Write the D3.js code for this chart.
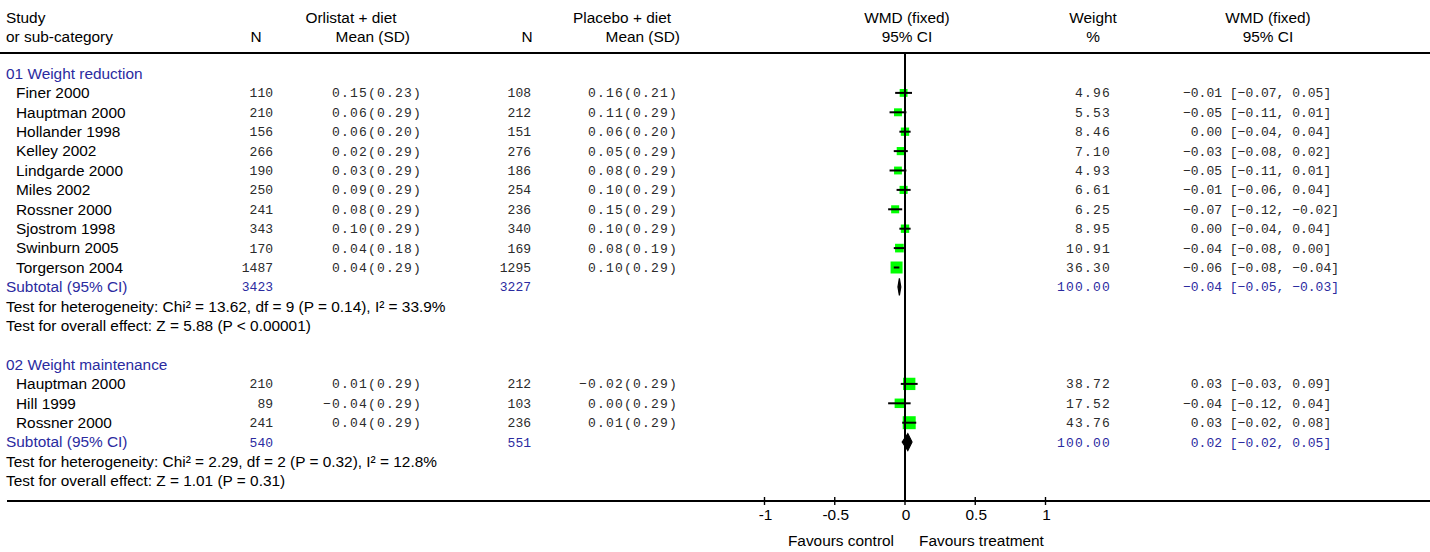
<!DOCTYPE html>
<html>
<head>
<meta charset="utf-8">
<script src="https://cdn.jsdelivr.net/npm/d3@7"></script>
<style>
  html, body { margin: 0; padding: 0; background: #fff; }
  svg { display: block; }
  .sans { font-family: "Liberation Sans", Arial, sans-serif; font-size: 15.4px; fill: #000; }
  .mono { font-family: "Liberation Mono", "Courier New", monospace; font-size: 13px; fill: #2a2a2a; white-space: pre; }
  .wide { letter-spacing: 1.2px; }
  .blue { fill: #2b2b9f; }
</style>
</head>
<body>
<svg id="chart" width="1430" height="552"></svg>
<script>
// ---------- data ----------
const group1Label = "01 Weight reduction";
const studies1 = ["Finer 2000","Hauptman 2000","Hollander 1998","Kelley 2002","Lindgarde 2000","Miles 2002","Rossner 2000","Sjostrom 1998","Swinburn 2005","Torgerson 2004"];
const n1Orl   = [110,210,156,266,190,250,241,343,170,1487];
const mean1Orl = [0.15,0.06,0.06,0.02,0.03,0.09,0.08,0.10,0.04,0.04];
const sd1Orl  = [0.23,0.29,0.20,0.29,0.29,0.29,0.29,0.29,0.18,0.29];
const n1Pla   = [108,212,151,276,186,254,236,340,169,1295];
const mean1Pla = [0.16,0.11,0.06,0.05,0.08,0.10,0.15,0.10,0.08,0.10];
const sd1Pla  = [0.21,0.29,0.20,0.29,0.29,0.29,0.29,0.29,0.19,0.29];
const weight1 = [4.96,5.53,8.46,7.10,4.93,6.61,6.25,8.95,10.91,36.30];
const wmd1    = [-0.01,-0.05,0.00,-0.03,-0.05,-0.01,-0.07,0.00,-0.04,-0.06];
const lo1     = [-0.07,-0.11,-0.04,-0.08,-0.11,-0.06,-0.12,-0.04,-0.08,-0.08];
const hi1     = [0.05,0.01,0.04,0.02,0.01,0.04,-0.02,0.04,0.00,-0.04];
const sub1    = {nOrl: 3423, nPla: 3227, weight: 100.00, wmd: -0.04, lo: -0.05, hi: -0.03};
const het1    = "Test for heterogeneity: Chi\u00B2 = 13.62, df = 9 (P = 0.14), I\u00B2 = 33.9%";
const eff1    = "Test for overall effect: Z = 5.88 (P < 0.00001)";

const group2Label = "02 Weight maintenance";
const studies2 = ["Hauptman 2000","Hill 1999","Rossner 2000"];
const n2Orl   = [210,89,241];
const mean2Orl = [0.01,-0.04,0.04];
const sd2Orl  = [0.29,0.29,0.29];
const n2Pla   = [212,103,236];
const mean2Pla = [-0.02,0.00,0.01];
const sd2Pla  = [0.29,0.29,0.29];
const weight2 = [38.72,17.52,43.76];
const wmd2    = [0.03,-0.04,0.03];
const lo2     = [-0.03,-0.12,-0.02];
const hi2     = [0.09,0.04,0.08];
const sub2    = {nOrl: 540, nPla: 551, weight: 100.00, wmd: 0.02, lo: -0.02, hi: 0.05};
const het2    = "Test for heterogeneity: Chi\u00B2 = 2.29, df = 2 (P = 0.32), I\u00B2 = 12.8%";
const eff2    = "Test for overall effect: Z = 1.01 (P = 0.31)";

const xTicks = [-1, -0.5, 0, 0.5, 1];
const xTickLabels = ["-1", "-0.5", "0", "0.5", "1"];
const favourLeft = "Favours control";
const favourRight = "Favours treatment";

// ---------- build rows ----------
const rows = [];
function addGroup(label, studies, nO, mO, sO, nP, mP, sP, w, e, lo, hi, sub, het, eff) {
  rows.push({type: "group", label});
  studies.forEach((s, i) => rows.push({type: "study", label: s, nO: nO[i], mO: mO[i], sO: sO[i],
    nP: nP[i], mP: mP[i], sP: sP[i], w: w[i], e: e[i], lo: lo[i], hi: hi[i]}));
  rows.push(Object.assign({type: "sub", label: "Subtotal (95% CI)"}, sub));
  rows.push({type: "note", label: het});
  rows.push({type: "note", label: eff});
}
addGroup(group1Label, studies1, n1Orl, mean1Orl, sd1Orl, n1Pla, mean1Pla, sd1Pla, weight1, wmd1, lo1, hi1, sub1, het1, eff1);
rows.push({type: "blank"});
addGroup(group2Label, studies2, n2Orl, mean2Orl, sd2Orl, n2Pla, mean2Pla, sd2Pla, weight2, wmd2, lo2, hi2, sub2, het2, eff2);

// ---------- layout ----------
const svg = d3.select("#chart");
const W = 1430;
const y = d3.scaleLinear().domain([0, 1]).range([73.5, 92.9]);  // row index -> center
const x = d3.scaleLinear().domain([-1, 1]).range([764.5, 1045.5]);
const boxSize = d3.scaleLinear().domain([0, 50]).range([7.2, 13.8]);
const topRule = 53, bottomRule = 501;
const dy = 5.2, dyMono = 4.5;

const col = {
  study: 6, studyIndent: 16,
  nOrl: 273, nOrlHead: 256, orlHead: 351, meanOrl: 422, meanOrlHead: 410,
  nPla: 531, nPlaHead: 527, plaHead: 622, meanPla: 678, meanPlaHead: 680,
  plotHead: 907, wHead: 1093, w: 1111, ciHead: 1268, ci: 1183
};

const f2 = d3.format(".2f");
const pad = v => (v < 0 ? "" : " ") + f2(v);
const meanSD = (m, s) => f2(m) + "(" + f2(s) + ")";

// ---------- header ----------
const hdr = svg.append("g");
function htext(txt, xx, yy, anchor) {
  hdr.append("text").attr("class", "sans").attr("x", xx).attr("y", yy).attr("text-anchor", anchor).text(txt);
}
const h1 = 22.5, h2 = 41.5;
htext("Study", col.study, h1, "start");
htext("or sub-category", col.study, h2, "start");
htext("Orlistat + diet", col.orlHead, h1, "middle");
htext("N", col.nOrlHead, h2, "middle");
htext("Mean (SD)", col.meanOrlHead, h2, "end");
htext("Placebo + diet", col.plaHead, h1, "middle");
htext("N", col.nPlaHead, h2, "middle");
htext("Mean (SD)", col.meanPlaHead, h2, "end");
htext("WMD (fixed)", col.plotHead, h1, "middle");
htext("95% CI", col.plotHead, h2, "middle");
htext("Weight", col.wHead, h1, "middle");
htext("%", col.wHead, h2, "middle");
htext("WMD (fixed)", col.ciHead, h1, "middle");
htext("95% CI", col.ciHead, h2, "middle");

svg.append("line").attr("x1", 0).attr("x2", W).attr("y1", topRule).attr("y2", topRule)
  .attr("stroke", "#000").attr("stroke-width", 2);

// ---------- table rows ----------
const body = svg.append("g");
rows.forEach((r, i) => {
  const yy = y(i) + dy, ym = y(i) + dyMono;
  if (r.type === "group") {
    body.append("text").attr("class", "sans blue").attr("x", col.study).attr("y", yy).text(r.label);
  } else if (r.type === "note") {
    body.append("text").attr("class", "sans").attr("x", col.study).attr("y", yy).text(r.label);
  } else if (r.type === "study") {
    body.append("text").attr("class", "sans").attr("x", col.studyIndent).attr("y", yy).text(r.label);
    body.append("text").attr("class", "mono").attr("x", col.nOrl).attr("y", ym).attr("text-anchor", "end").text(r.nO);
    body.append("text").attr("class", "mono wide").attr("x", col.meanOrl).attr("y", ym).attr("text-anchor", "end").text(meanSD(r.mO, r.sO));
    body.append("text").attr("class", "mono").attr("x", col.nPla).attr("y", ym).attr("text-anchor", "end").text(r.nP);
    body.append("text").attr("class", "mono wide").attr("x", col.meanPla).attr("y", ym).attr("text-anchor", "end").text(meanSD(r.mP, r.sP));
    body.append("text").attr("class", "mono wide").attr("x", col.w).attr("y", ym).attr("text-anchor", "end").text(f2(r.w));
    body.append("text").attr("class", "mono").attr("x", col.ci).attr("y", ym).attr("xml:space", "preserve")
      .text(pad(r.e) + " [" + f2(r.lo) + ", " + f2(r.hi) + "]");
  } else if (r.type === "sub") {
    body.append("text").attr("class", "sans blue").attr("x", col.study).attr("y", yy).text(r.label);
    body.append("text").attr("class", "mono blue").attr("x", col.nOrl).attr("y", ym).attr("text-anchor", "end").text(r.nOrl);
    body.append("text").attr("class", "mono blue").attr("x", col.nPla).attr("y", ym).attr("text-anchor", "end").text(r.nPla);
    body.append("text").attr("class", "mono wide blue").attr("x", col.w).attr("y", ym).attr("text-anchor", "end").text(f2(r.weight));
    body.append("text").attr("class", "mono blue").attr("x", col.ci).attr("y", ym).attr("xml:space", "preserve")
      .text(pad(r.wmd) + " [" + f2(r.lo) + ", " + f2(r.hi) + "]");
  }
});

// ---------- forest plot ----------
const plot = svg.append("g");
const studyRows = rows.map((r, i) => Object.assign({i}, r)).filter(r => r.type === "study");
const subRows = rows.map((r, i) => Object.assign({i}, r)).filter(r => r.type === "sub");

plot.selectAll("rect.box").data(studyRows).enter().append("rect")
  .attr("class", "box")
  .attr("x", d => x(d.e) - boxSize(d.w) / 2)
  .attr("y", d => y(d.i) - boxSize(d.w) / 2)
  .attr("width", d => boxSize(d.w))
  .attr("height", d => boxSize(d.w))
  .attr("fill", "#00ff00");

plot.selectAll("line.ci").data(studyRows).enter().append("line")
  .attr("class", "ci")
  .attr("x1", d => x(d.lo)).attr("x2", d => x(d.hi))
  .attr("y1", d => y(d.i)).attr("y2", d => y(d.i))
  .attr("stroke", "#000").attr("stroke-width", 2);

plot.selectAll("path.diamond").data(subRows).enter().append("path")
  .attr("class", "diamond")
  .attr("d", d => {
    const c = y(d.i), h = 8.5;
    return `M${x(d.lo)},${c} L${x(d.wmd)},${c - h} L${x(d.hi)},${c} L${x(d.wmd)},${c + h} Z`;
  })
  .attr("fill", "#000").attr("stroke", "#000").attr("stroke-width", 1.2);

// zero line
plot.append("line").attr("x1", x(0)).attr("x2", x(0)).attr("y1", topRule).attr("y2", bottomRule)
  .attr("stroke", "#000").attr("stroke-width", 2);

// bottom rule / axis line
svg.append("line").attr("x1", 7).attr("x2", W).attr("y1", bottomRule).attr("y2", bottomRule)
  .attr("stroke", "#000").attr("stroke-width", 2);

// axis ticks and labels
const axis = svg.append("g");
axis.selectAll("line.tick").data(xTicks).enter().append("line")
  .attr("x1", d => x(d)).attr("x2", d => x(d))
  .attr("y1", bottomRule - 4).attr("y2", bottomRule + 4)
  .attr("stroke", "#000").attr("stroke-width", 1.4);
axis.selectAll("text.tl").data(xTicks).enter().append("text")
  .attr("class", "sans")
  .attr("x", d => x(d) + 1).attr("y", 519.5)
  .attr("text-anchor", "middle")
  .text((d, i) => xTickLabels[i]);

svg.append("text").attr("class", "sans").attr("x", 894).attr("y", 545.5).attr("text-anchor", "end").text(favourLeft);
svg.append("text").attr("class", "sans").attr("x", 919).attr("y", 545.5).attr("text-anchor", "start").text(favourRight);
</script>
</body>
</html>
